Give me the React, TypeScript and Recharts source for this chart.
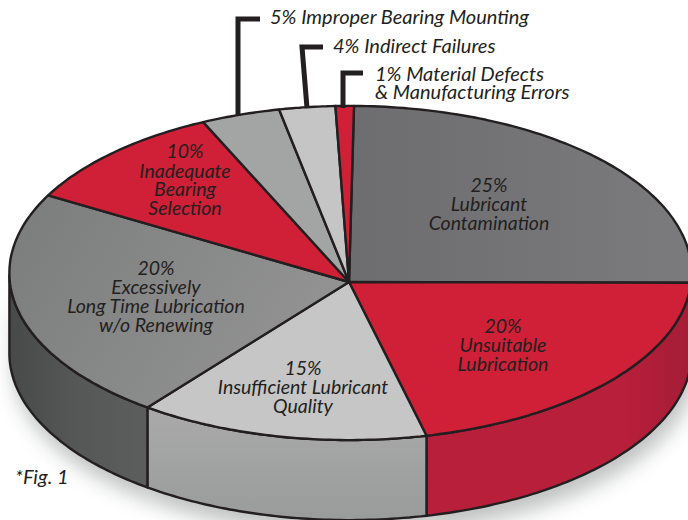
import { Pie, PieChart } from 'recharts'

const sliceNames = [
  'Lubricant Contamination',
  'Unsuitable Lubrication',
  'Insufficient Lubricant Quality',
  'Excessively Long Time Lubrication w/o Renewing',
  'Inadequate Bearing Selection',
  'Improper Bearing Mounting',
  'Indirect Failures',
  'Material Defects & Manufacturing Errors'
]
const sliceValues = [25, 20, 15, 20, 10, 5, 4, 1]
const data = sliceNames.map((name, i) => ({ name, value: sliceValues[i] }))

const topFills = ['url(#topDark)', '#cf2037', '#c6c6c6', 'url(#topMid)', '#cf2037', '#a3a5a4', '#c5c5c5', '#cf2037']
const wallFills = ['#b51f38', 'url(#wallRed)', 'url(#wallLight)', 'url(#wallDark)', '#b51f38', '#888', '#999', '#b51f38']

const INK = '#231f20'
const FONT = 'Lato, "Open Sans", sans-serif'
const DEPTH = 80
const TILT = 0.054

// the original artwork isn't drawn quite to scale, its slices lean a few degrees
// away from their printed share, so the projection leans the same way
const lean = (clockwise: number) =>
  12.5 * Math.exp(-(((clockwise - 303) / 44) ** 4)) +
  4.5 * Math.exp(-(((clockwise - 175) / 50) ** 2)) +
  0.8 * Math.exp(-((clockwise / 25) ** 2))

function project(angle: number, cx: number, cy: number, radius: number) {
  const clockwise = ((90 - angle) % 360 + 360) % 360
  const a = ((angle - lean(clockwise)) * Math.PI) / 180
  const down = -Math.sin(a)
  const w = 1 + TILT * down
  const cos = Math.cos(a)
  return {
    x: cx + (radius * (cos > 0 ? 2.012 : 1.995) * cos) / w,
    y: cy + (radius * 0.98 * down) / w,
    down
  }
}

function arc(props: any) {
  const { startAngle, endAngle, cx, cy, outerRadius } = props
  const steps = Math.max(2, Math.ceil(Math.abs(endAngle - startAngle)))
  const pts = []
  for (let i = 0; i <= steps; i++) {
    pts.push(project(startAngle + ((endAngle - startAngle) * i) / steps, cx, cy, outerRadius))
  }
  return pts
}

const toPath = (pts: { x: number; y: number }[]) =>
  pts.map((p, i) => `${i ? 'L' : 'M'}${p.x.toFixed(1)} ${p.y.toFixed(1)}`).join(' ')

function TopSlice(props: any) {
  const pts = arc(props)
  return (
    <path
      d={`M${props.cx} ${props.cy} ${toPath(pts).replace('M', 'L')} Z`}
      fill={topFills[props.index]}
      stroke={INK}
      strokeWidth={2.4}
      strokeLinejoin="round"
    />
  )
}

function wallPath(props: any) {
  const front = arc(props).filter((p) => p.down > -0.06)
  if (front.length < 2) return null
  const bottom = [...front].reverse().map((p) => ({ x: p.x, y: p.y + DEPTH }))
  return `${toPath(front)} ${toPath(bottom).replace('M', 'L')} Z`
}

function WallSlice(props: any) {
  const d = wallPath(props)
  if (!d) return <g />
  return <path d={d} fill={wallFills[props.index]} stroke={INK} strokeWidth={2.4} strokeLinejoin="round" />
}

function ShadowSlice(props: any) {
  const d = wallPath(props)
  if (!d) return <g />
  return <path d={d} fill="#7f8684" opacity={0.5} filter="url(#softShadow)" transform="translate(4 14)" />
}

const pieProps = {
  data,
  dataKey: 'value',
  nameKey: 'name',
  cx: 349,
  cy: 282,
  innerRadius: 0,
  outerRadius: 170,
  startAngle: 90,
  endAngle: -270,
  isAnimationActive: false
}

const leaders = ['M238 116 V19 H260', 'M307 108 L302 47 H323', 'M343 108 V73 H363']

const insideLabels = [
  { x: 489, lines: [['25%', 192], ['Lubricant', 211], ['Contamination', 230]] },
  { x: 503, lines: [['20%', 333], ['Unsuitable', 352], ['Lubrication', 371]] },
  { x: 303, lines: [['15%', 375], ['Insufficient Lubricant', 394], ['Quality', 413]] },
  { x: 156, lines: [['20%', 275], ['Excessively', 294], ['Long Time Lubrication', 313], ['w/o Renewing', 332]] },
  { x: 185, lines: [['10%', 158], ['Inadequate', 178], ['Bearing', 196], ['Selection', 215]] }
] as const

const outsideLabels = [
  ['5% Improper Bearing Mounting', 270, 24],
  ['4% Indirect Failures', 333, 53],
  ['1% Material Defects', 375, 81],
  ['& Manufacturing Errors', 375, 99],
  ['*Fig. 1', 15, 484]
] as const

export default function App() {
  return (
    <div style={{ position: 'absolute', left: 0, top: 0, width: 688, height: 520, overflow: 'hidden', background: '#fff' }}>
      <PieChart width={688} height={520} margin={{ top: 0, right: 0, bottom: 0, left: 0 }}>
        <defs>
          <linearGradient id="topDark" gradientUnits="userSpaceOnUse" x1="350" y1="0" x2="688" y2="0">
            <stop offset="0" stopColor="#6d6d6f" />
            <stop offset="1" stopColor="#7b7b7d" />
          </linearGradient>
          <linearGradient id="topMid" gradientUnits="userSpaceOnUse" x1="10" y1="200" x2="350" y2="400">
            <stop offset="0" stopColor="#7b7c7c" />
            <stop offset="1" stopColor="#979797" />
          </linearGradient>
          <linearGradient id="wallDark" gradientUnits="userSpaceOnUse" x1="10" y1="0" x2="148" y2="0">
            <stop offset="0" stopColor="#484949" />
            <stop offset="0.5" stopColor="#565757" />
            <stop offset="1" stopColor="#5c5d5d" />
          </linearGradient>
          <linearGradient id="wallLight" gradientUnits="userSpaceOnUse" x1="0" y1="420" x2="0" y2="520">
            <stop offset="0" stopColor="#a8a8a8" />
            <stop offset="1" stopColor="#999c9b" />
          </linearGradient>
          <linearGradient id="wallRed" gradientUnits="userSpaceOnUse" x1="425" y1="0" x2="688" y2="0">
            <stop offset="0" stopColor="#b81f3a" />
            <stop offset="0.75" stopColor="#b81f3a" />
            <stop offset="1" stopColor="#a51c36" />
          </linearGradient>
          <filter id="softShadow" x="-30%" y="-30%" width="160%" height="160%">
            <feGaussianBlur stdDeviation="10" />
          </filter>
        </defs>
        <Pie {...pieProps} shape={ShadowSlice} />
        <Pie {...pieProps} shape={WallSlice} />
        <Pie {...pieProps} shape={TopSlice} />
      </PieChart>
      <svg width={688} height={520} style={{ position: 'absolute', left: 0, top: 0 }}>
        {leaders.map((d) => (
          <path key={d} d={d} fill="none" stroke={INK} strokeWidth={5} />
        ))}
        <g fontFamily={FONT} fontStyle="italic" fill={INK}>
          <g fontSize={19.5}>
            {insideLabels.map((label) =>
              label.lines.map(([text, y]) => (
                <text key={`${text}${y}`} x={label.x} y={y} textAnchor="middle">
                  {text}
                </text>
              ))
            )}
          </g>
          <g fontSize={20}>
            {outsideLabels.map(([text, x, y]) => (
              <text key={text} x={x} y={y}>
                {text}
              </text>
            ))}
          </g>
        </g>
      </svg>
    </div>
  )
}
